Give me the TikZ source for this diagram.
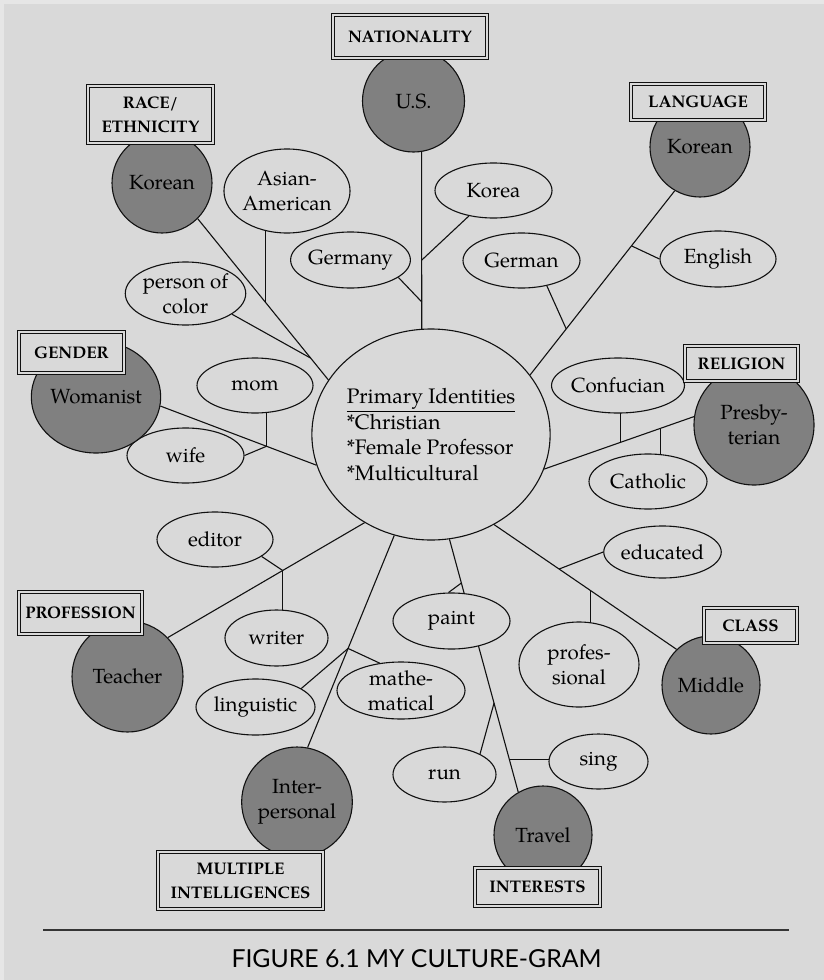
\documentclass[tikz,border=0pt]{standalone}
\usepackage{fontspec}
\setmainfont{texgyrepagella}[Extension=.otf,UprightFont=*-regular,BoldFont=*-bold,ItalicFont=*-italic,BoldItalicFont=*-bolditalic]
\newfontfamily\capfont{Lato}
\usetikzlibrary{shapes.geometric,calc}
\pgfdeclarelayer{back}
\pgfsetlayers{back,main}
\definecolor{paper}{HTML}{D9D9D9}
\definecolor{edgetone}{HTML}{E6E6E6}
\definecolor{shade}{HTML}{808080}
\definecolor{ink}{HTML}{111111}
\tikzset{
  hub/.style={ellipse, draw=ink, line width=1.1pt, fill=paper, inner sep=0pt,
    minimum width=230pt, minimum height=211pt, align=left,
    font=\fontsize{21}{25.5}\selectfont},
  facet/.style={ellipse, draw=ink, line width=1.1pt, fill=shade, inner sep=0pt,
    align=center, font=\fontsize{20.5}{25}\selectfont},
  item/.style={ellipse, draw=ink, line width=1.1pt, fill=paper, inner sep=0pt,
    align=center, font=\fontsize{20.5}{25}\selectfont},
  tag/.style={rectangle, draw=ink, double=paper, double distance=1.3pt,
    line width=0.9pt, fill=paper, inner sep=0pt, align=center,
    font=\fontsize{16.8}{24}\selectfont\bfseries},
  link/.style={draw=ink, line width=1.1pt},
}
\begin{document}
\begin{tikzpicture}[x=1pt,y=-1pt]
\useasboundingbox (0,0) rectangle (824,980);

% centre
\node[hub] (hub) at (431,434.5) {\underline{Primary Identities}\\*Christian\\*Female Professor\\*Multicultural};

% sub-items
\node[item, minimum width=126pt, minimum height=84pt] (asian) at (287,191) {Asian-\\American};
\node[item, minimum width=113pt, minimum height=56pt] (germany) at (350.5,260) {Germany};
\node[item, minimum width=117pt, minimum height=63pt] (person) at (185.5,293.5) {person of\\color};
\node[item, minimum width=117pt, minimum height=55pt] (korea) at (493.5,190.5) {Korea};
\node[item, minimum width=117pt, minimum height=55pt] (german) at (521.5,260.5) {German};
\node[item, minimum width=116pt, minimum height=56pt] (english) at (718,259) {English};
\node[item, minimum width=116pt, minimum height=55pt] (mom) at (255,385.5) {mom};
\node[item, minimum width=117pt, minimum height=55pt] (wife) at (185.5,455.5) {wife};
\node[item, minimum width=114pt, minimum height=55pt] (confucian) at (618,385.5) {Confucian};
\node[item, minimum width=118pt, minimum height=55pt] (catholic) at (648,481.5) {Catholic};
\node[item, minimum width=116pt, minimum height=55pt] (editor) at (215,539.5) {editor};
\node[item, minimum width=103pt, minimum height=56pt] (writer) at (276.5,638) {writer};
\node[item, minimum width=119pt, minimum height=56pt] (linguistic) at (255.5,707) {linguistic};
\node[item, minimum width=128pt, minimum height=55pt] (math) at (401,690.5) {mathe-\\matical};
\node[item, minimum width=117pt, minimum height=56pt] (paint) at (451.5,621) {paint};
\node[item, minimum width=103pt, minimum height=55pt] (run) at (444.5,774.5) {run};
\node[item, minimum width=99pt, minimum height=55pt] (sing) at (598.5,761.5) {sing};
\node[item, minimum width=117pt, minimum height=52pt] (educated) at (662.5,552) {educated};
\node[item, minimum width=120pt, minimum height=85pt] (profes) at (579,664.5) {profes-\\sional};

% categories
\node[facet, minimum size=102pt] (us) at (413.5,101) {U.S.};
\node[facet, minimum size=100pt] (korR) at (162,183) {Korean};
\node[facet, minimum size=100pt] (korL) at (700,147) {Korean};
\node[facet, minimum width=120pt, minimum height=112pt] (wom) at (96,397) {Womanist};
\node[facet, minimum size=120pt] (pres) at (754,425) {Presby-\\terian};
\node[facet, minimum size=111pt] (teach) at (127.5,676.5) {Teacher};
\node[facet, minimum size=110pt] (inter) at (297,802) {Inter-\\personal};
\node[facet, minimum size=98pt] (travel) at (543,835) {Travel};
\node[facet, minimum size=98pt] (middle) at (711,685) {Middle};

% category labels
\node[tag, minimum width=154pt, minimum height=43pt] (natl) at (410,36.5) {NATIONALITY};
\node[tag, minimum width=125pt, minimum height=57pt] (race) at (150.5,114.5) {RACE/\\ETHNICITY};
\node[tag, minimum width=134pt, minimum height=36pt] (lang) at (698,102) {LANGUAGE};
\node[tag, minimum width=105pt, minimum height=41pt] (gend) at (71.5,352.5) {GENDER};
\node[tag, minimum width=113pt, minimum height=35pt] (relig) at (741.5,363.5) {RELIGION};
\node[tag, minimum width=123pt, minimum height=42pt] (prof) at (80.5,613) {PROFESSION};
\node[tag, minimum width=93pt, minimum height=35pt] (cls) at (750.5,625.5) {CLASS};
\node[tag, minimum width=165pt, minimum height=57pt] (mi) at (240.5,880.5) {MULTIPLE\\INTELLIGENCES};
\node[tag, minimum width=125pt, minimum height=38pt] (intr) at (537.5,887) {INTERESTS};

% caption
\node[font=\capfont\fontsize{24.8}{30}\selectfont, inner sep=0pt] (cap) at (416.5,959) {FIGURE 6.1 MY CULTURE-GRAM};

\begin{pgfonlayer}{back}
\fill[paper] (0,0) rectangle (824,980);
\fill[edgetone] (0,0) rectangle (824,4);
\fill[edgetone] (0,0) rectangle (4,980);
\draw[ink!85, line width=1.5pt] (43,930) -- (789,930);

% race / ethnicity
\draw[link] (korR.-45) -- (hub.152);
\coordinate (jAs) at ($(korR.-45)!0.521!(hub.152)$);
\coordinate (jPc) at ($(korR.-45)!0.865!(hub.152)$);
\draw[link] (jAs) -- (jAs |- asian.center);
\draw[link] (jPc) -- (person.-24);

% nationality
\draw[link] (us.-81) -- (hub.95);
\coordinate (jKo) at ($(us.-81)!0.612!(hub.95)$);
\coordinate (jGy) at ($(us.-81)!0.848!(hub.95)$);
\draw[link] (jKo) -- (korea.226);
\draw[link] (jGy) -- (germany.-20);

% language
\draw[link] (korL.240) -- (hub.31);
\coordinate (jEn) at ($(korL.240)!0.299!(hub.31)$);
\coordinate (jGe) at ($(korL.240)!0.750!(hub.31)$);
\draw[link] (jEn) -- (english.west);
\draw[link] (jGe) -- (german.-45);

% gender
\draw[link] (wom.-8) -- (hub.195);
\coordinate (jMo) at ($(wom.-8)!0.680!(hub.195)$);
\draw[link] (jMo) -- (jMo |- mom.center);
\draw[link] (jMo) -- (wife.east);

% religion
\draw[link] (pres.172) -- (hub.343);
\coordinate (jCo) at ($(pres.172)!0.490!(hub.343)$);
\coordinate (jCa) at ($(pres.172)!0.224!(hub.343)$);
\draw[link] (jCo) -- (jCo |- confucian.center);
\draw[link] (jCa) -- (jCa |- catholic.center);

% profession
\draw[link] (teach.44) -- (hub.233);
\coordinate (jEd) at ($(teach.44)!0.584!(hub.233)$);
\draw[link] (jEd) -- (editor.-20);
\draw[link] (jEd) -- (jEd |- writer.center);

% multiple intelligences
\draw[link] (inter.79) -- (hub.250);
\coordinate (jLi) at ($(inter.79)!0.467!(hub.250)$);
\draw[link] (jLi) -- (linguistic.22);
\draw[link] (jLi) -- (math.128);

% interests
\draw[link] (travel.120) -- (hub.280);
\coordinate (jPa) at ($(travel.120)!0.827!(hub.280)$);
\coordinate (jRu) at ($(travel.120)!0.352!(hub.280)$);
\coordinate (jSi) at ($(travel.120)!0.128!(hub.280)$);
\draw[link] (jPa) -- (paint.96);
\draw[link] (jRu) -- (run.30);
\draw[link] (jSi) -- (jSi -| sing.center);

% class
\draw[link] (middle.134) -- (hub.305);
\coordinate (jEc) at ($(middle.134)!0.644!(hub.305)$);
\coordinate (jPr) at ($(middle.134)!0.474!(hub.305)$);
\draw[link] (jEc) -- (educated.west);
\draw[link] (jPr) -- (jPr |- profes.center);
\end{pgfonlayer}
\end{tikzpicture}
\end{document}
